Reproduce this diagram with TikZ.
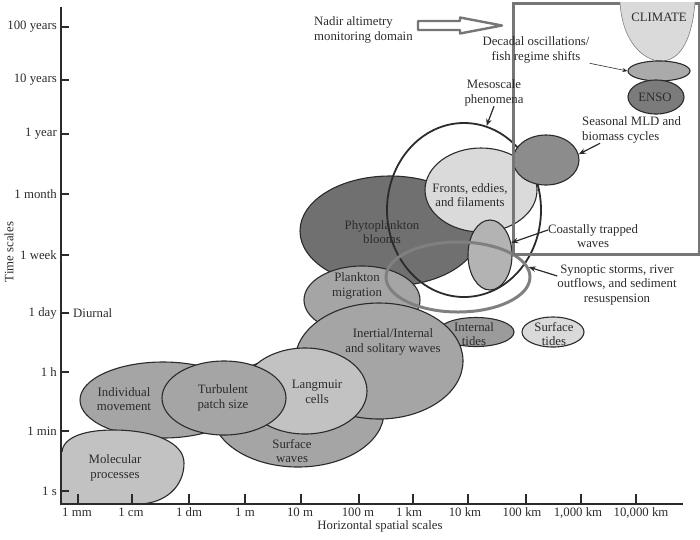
\documentclass[tikz,border=0pt]{standalone}
\usepackage{fontspec}
\setmainfont{Liberation Serif}
\usetikzlibrary{arrows.meta,positioning,shapes.geometric,calc}
\definecolor{ink}{HTML}{2B2B2B}
\definecolor{framegray}{HTML}{767676}
\definecolor{ringgray}{HTML}{808080}
\definecolor{gdark}{HTML}{707070}
\definecolor{genso}{HTML}{7B7B7B}
\definecolor{gmld}{HTML}{8C8C8C}
\definecolor{gmid}{HTML}{A5A5A5}
\definecolor{gtide}{HTML}{9B9B9B}
\definecolor{glight}{HTML}{C2C2C2}
\definecolor{gcoast}{HTML}{B3B3B3}
\definecolor{gpale}{HTML}{DADADA}

\begin{document}
\begin{tikzpicture}[
  x=1pt, y=-1pt,
  every node/.style={font=\fontsize{12.8}{14.5}\selectfont, text=ink, align=center, inner sep=0pt},
  blob/.style={ellipse, draw=ink, line width=1.1pt},
  arr/.style={-{Stealth[length=7pt,width=5.5pt]}, line width=1.2pt, draw=ink},
  thinarr/.style={-{Stealth[length=5pt,width=4pt]}, line width=0.6pt, draw=ink},
  axtick/.style={line width=1.3pt, draw=ink},
]
  \useasboundingbox (0,0) rectangle (700,539);

  % Scale bubbles, back to front
  \node[blob, fill=gdark, minimum width=180pt, minimum height=110pt] (phyto) at (390,231) {};
  \node[blob, fill=gmid, minimum width=116pt, minimum height=68pt] (plankmig) at (362,300) {};
  \node[blob, fill=gmid, minimum width=172pt, minimum height=110pt] (surfwave) at (298,412) {};
  \node[blob, fill=gtide, minimum width=76pt, minimum height=29pt] (inttide) at (476,332) {};
  \node[blob, fill=gmid, minimum width=168pt, minimum height=116pt] (inert) at (379,361) {};
  \node[blob, fill=glight, minimum width=124pt, minimum height=86pt] (langm) at (305,391) {};
  \node[blob, fill=gmid, minimum width=166pt, minimum height=76pt] (indiv) at (163,400) {};
  \node[blob, fill=gmid, minimum width=124pt, minimum height=74pt] (turb) at (224,398) {};
  \fill[glight] (62,504) -- (62,452) .. controls (63,437) and (85,430) .. (113,430)
    .. controls (155,430) and (184,443) .. (184,463)
    .. controls (184,487) and (165,503) .. (140,504) -- cycle;
  \draw[line width=1.1pt, draw=ink] (62,452) .. controls (63,437) and (85,430) .. (113,430)
    .. controls (155,430) and (184,443) .. (184,463)
    .. controls (184,487) and (165,503) .. (140,504);
  \node[blob, fill=gpale, minimum width=112pt, minimum height=84pt] (fronts) at (481,190) {};
  \node[blob, fill=gcoast, minimum width=44pt, minimum height=70pt] (coast) at (490,255) {};
  \node[ellipse, draw=ink, line width=1.8pt, minimum width=154pt, minimum height=174pt] (meso) at (464,210) {};
  \node[ellipse, draw=ringgray, line width=3pt, minimum width=144pt, minimum height=70pt] (synop) at (458,277) {};
  \node[blob, fill=gpale, minimum width=62pt, minimum height=30pt] (surftide) at (553,332) {};
  \node[blob, fill=gmld, minimum width=66pt, minimum height=50pt] (mld) at (546,160) {};

  % Nadir altimetry domain
  \node[draw=framegray, line width=3pt, minimum width=186pt, minimum height=251pt, anchor=north west] (domain) at (512,1.5) {};
  \filldraw[fill=gpale, draw=ink!60, line width=0.6pt] (620,2) .. controls (622,42) and (644,61) .. (661,61)
    .. controls (679,61) and (692,42) .. (695,2);
  \node[blob, fill=gmid!95!white, minimum width=62pt, minimum height=20pt] (decadal) at (659,71) {};
  \node[blob, fill=genso, minimum width=56pt, minimum height=34pt] (enso) at (656,97) {};
  \draw[line width=2.4pt, draw=framegray, fill=white, line join=round]
    (418,21) -- (460,21) -- (460,17.5) -- (502,25.5) -- (460,33.5) -- (460,30) -- (418,30) -- cycle;

  % Axes
  \draw[line width=1.5pt, draw=ink] (61,7) -- (61,504) -- (683,504);
  \foreach \y/\txt in {27/100 years, 80/10 years, 134/1 year, 194/1 month, 255/1 week,
                       313/1 day, 372/1 h, 431/1 min, 491/1 s} {
    \draw[axtick] (61,\y) -- (69,\y);
    \node[anchor=east] (yl-\y) at (57,\y) {\txt};
  }
  \foreach \x/\lx/\txt in {78/77/1 mm, 132/131/1 cm, 189/189/1 dm, 245/245/1 m, 301/300/10 m,
                           359/358/100 m, 413/409/1 km, 468/465/10 km, 526/522/100 km,
                           581/578/{1,000 km}, 636/641/{10,000 km}} {
    \draw[axtick] (\x,504) -- (\x,494);
    \node[anchor=base] (xl-\x) at (\lx,516) {\txt};
  }
  \node (xtitle) at (380,526) {Horizontal spatial scales};
  \node[rotate=90] (ytitle) at (9,252) {Time scales};
  \node[anchor=west] (diurnal) at (73,313) {Diurnal};

  % Bubble labels
  \node (molec-lbl) at (115,468) {Molecular\\processes};
  \node (indiv-lbl) at (124,399) {Individual\\movement};
  \node (turb-lbl) at (223,398) {Turbulent\\patch size};
  \node (surfwave-lbl) at (292,451) {Surface\\waves};
  \node (langm-lbl) at (317,392) {Langmuir\\cells};
  \node (inert-lbl) at (393,342) {Inertial/Internal\\and solitary waves};
  \node (inttide-lbl) at (474,334) {Internal\\tides};
  \node (surftide-lbl) at (554,334) {Surface\\tides};
  \node (plankmig-lbl) at (357,286) {Plankton\\migration};
  \node (phyto-lbl) at (382,232) {Phytoplankton\\blooms};
  \node (fronts-lbl) at (470,195) {Fronts, eddies,\\and filaments};
  \node (climate-lbl) at (659,17) {CLIMATE};
  \node (enso-lbl) at (655,97) {ENSO};

  % Callouts
  \node[anchor=west, align=left] (nadir-lbl) at (314,30) {Nadir altimetry\\monitoring domain};
  \node (decadal-lbl) at (536,50) {Decadal oscillations/\\fish regime shifts};
  \node (meso-lbl) at (494,93) {Mesoscale\\phenomena};
  \node[anchor=west, align=left] (mld-lbl) at (582,130) {Seasonal MLD and\\biomass cycles};
  \node (coast-lbl) at (593,236) {Coastally trapped\\waves};
  \node (synop-lbl) at (617,285) {Synoptic storms, river\\outflows, and sediment\\resuspension};

  \draw[thinarr] (decadal-lbl.south east) -- (decadal.west);
  \draw[arr] (meso-lbl.south) -- (meso.75);
  \draw[arr] ($(mld-lbl.south west)+(18,0)$) -- (mld.10);
  \draw[arr] ($(coast-lbl.west)+(0,-6)$) -- (coast.30);
  \draw[arr] ($(synop-lbl.west)+(0,-9)$) -- (synop.8);
\end{tikzpicture}
\end{document}
